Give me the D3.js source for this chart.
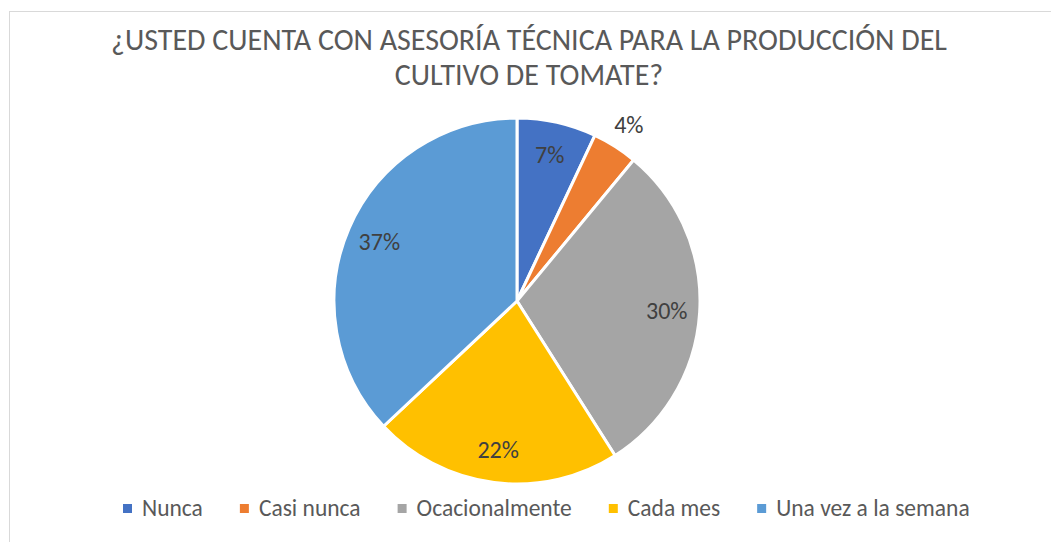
<!DOCTYPE html>
<html>
<head>
<meta charset="utf-8">
<script src="https://cdn.jsdelivr.net/npm/d3@7"></script>
<style>
  body { margin: 0; background: #fff; }
  svg text { font-family: Carlito, "Liberation Sans Narrow", "Open Sans", sans-serif; fill: #404040; }
</style>
</head>
<body>
<svg id="s" width="1051" height="542"></svg>
<script>
// data
var categories = ["Nunca", "Casi nunca", "Ocacionalmente", "Cada mes", "Una vez a la semana"];
var values = [7, 4, 30, 22, 37];
var colors = ["#4472C4", "#ED7D31", "#A5A5A5", "#FFC000", "#5B9BD5"];
var titleLines = ["¿USTED CUENTA CON ASESORÍA TÉCNICA PARA LA PRODUCCIÓN DEL", "CULTIVO DE TOMATE?"];

var svg = d3.select("#s");

// chart frame (right / bottom edges fall outside the picture)
svg.append("rect")
  .attr("x", 9.5).attr("y", 11.5).attr("width", 1060).attr("height", 560)
  .attr("fill", "#fff").attr("stroke", "#d9d9d9").attr("stroke-width", 1);

// title
var title = svg.append("text")
  .attr("text-anchor", "middle")
  .style("font-size", "30px")
  .style("fill", "#595959");
title.selectAll("tspan").data(titleLines).enter().append("tspan")
  .attr("x", 529)
  .attr("y", function (d, i) { return 50 + i * 35; })
  .text(function (d) { return d; });

// pie
var cx = 517, cy = 301, r = 183;
var total = d3.sum(values);
var pie = d3.pie().sort(null).value(function (d) { return d; });
var arcs = pie(values);
var arc = d3.arc().innerRadius(0).outerRadius(r);

var g = svg.append("g").attr("transform", "translate(" + cx + "," + cy + ")");
g.selectAll("path").data(arcs).enter().append("path")
  .attr("d", arc)
  .attr("fill", function (d, i) { return colors[i]; })
  .attr("stroke", "#fff")
  .attr("stroke-width", 3)
  .attr("stroke-linejoin", "round");

// data labels: inside for big slices, outside for the small one
var labelArc = d3.arc().innerRadius(r * 0.82).outerRadius(r * 0.82);
var outArc = d3.arc().innerRadius(r * 1.14).outerRadius(r * 1.14);
g.selectAll("text.lbl").data(arcs).enter().append("text")
  .attr("class", "lbl")
  .attr("text-anchor", "middle")
  .attr("dy", "0.35em")
  .style("font-size", "24px")
  .attr("transform", function (d) {
    var p = (d.data / total < 0.05) ? outArc.centroid(d) : labelArc.centroid(d);
    return "translate(" + p[0] + "," + p[1] + ")";
  })
  .text(function (d) { return Math.round(d.data / total * 100) + "%"; });

// legend
var leg = svg.append("g").attr("class", "legend");
var items = leg.selectAll("g").data(categories).enter().append("g");
items.append("rect")
  .attr("width", 9).attr("height", 9)
  .attr("y", -4)
  .attr("fill", function (d, i) { return colors[i]; });
items.append("text")
  .attr("x", 19)
  .attr("dy", "0.35em")
  .style("font-size", "23.5px")
  .style("fill", "#595959")
  .text(function (d) { return d; });

var x = 123, gap = 37;
items.each(function () {
  var w = this.getBBox().width;
  d3.select(this).attr("transform", "translate(" + x + ",508)");
  x += w + gap;
});
</script>
</body>
</html>
